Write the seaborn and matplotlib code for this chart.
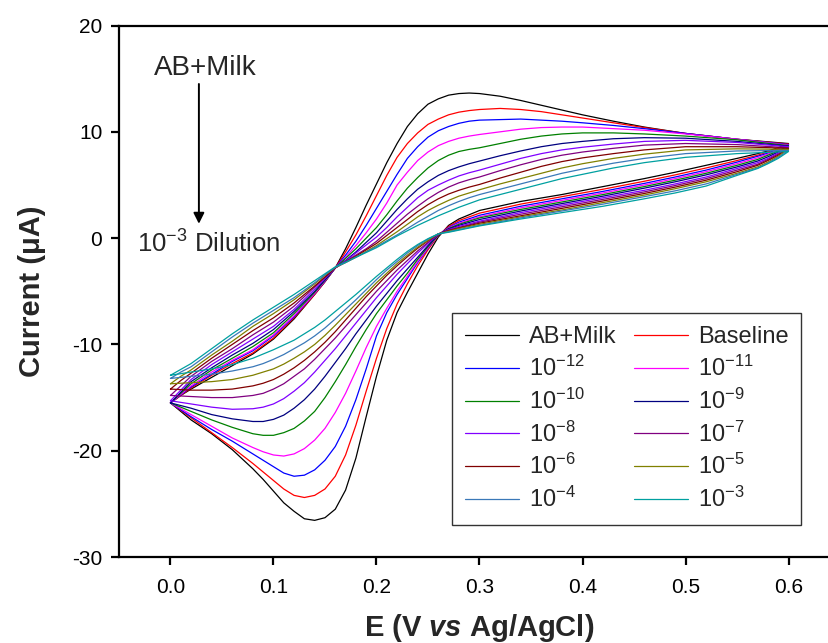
import matplotlib
matplotlib.use("Agg")
import matplotlib.pyplot as plt
import pandas as pd
import seaborn as sns
from matplotlib.lines import Line2D

# Potentials (V vs Ag/AgCl) of the anodic and cathodic sweeps, both listed low -> high
fwd_potential = [0.00, 0.01, 0.02, 0.04, 0.06, 0.08, 0.10, 0.12, 0.14, 0.15, 0.16,
                 0.17, 0.18, 0.19, 0.20, 0.21, 0.22, 0.23, 0.24, 0.25, 0.26, 0.27,
                 0.28, 0.29, 0.30, 0.32, 0.34, 0.36, 0.38, 0.40, 0.43, 0.46, 0.50,
                 0.55, 0.60]
rev_potential = [0.00, 0.01, 0.02, 0.04, 0.06, 0.08, 0.09, 0.10, 0.11, 0.12, 0.13,
                 0.14, 0.15, 0.16, 0.17, 0.18, 0.19, 0.20, 0.21, 0.22, 0.23, 0.24,
                 0.25, 0.26, 0.27, 0.28, 0.30, 0.34, 0.38, 0.42, 0.46, 0.49, 0.52,
                 0.55, 0.57, 0.58, 0.59, 0.60]

sample_names = ["AB+Milk", "Baseline", "1e-12", "1e-11", "1e-10", "1e-9",
                "1e-8", "1e-7", "1e-6", "1e-5", "1e-4", "1e-3"]
legend_labels = ["AB+Milk", "Baseline", "10$^{-12}$", "10$^{-11}$", "10$^{-10}$",
                 "10$^{-9}$", "10$^{-8}$", "10$^{-7}$", "10$^{-6}$", "10$^{-5}$",
                 "10$^{-4}$", "10$^{-3}$"]
line_colors = ["#000000", "#FF0000", "#0000FF", "#FF00FF", "#008000", "#000080",
               "#8000FF", "#800080", "#800000", "#808000", "#3A78B8", "#00A0A0"]

# Anodic sweep currents (uA) on fwd_potential
ab_milk_fwd = [-15.5, -14.8, -14.2, -13.1, -12.0, -10.9, -9.5, -7.6, -5.3, -4.1, -2.8,
               -1.0, 1.0, 3.1, 5.1, 7.1, 8.9, 10.5, 11.7, 12.6, 13.1, 13.45,
               13.6, 13.65, 13.6, 13.35, 12.95, 12.5, 12.05, 11.6, 11.0, 10.45, 9.85,
               9.3, 8.9]
baseline_fwd = [-15.5, -14.8, -14.1, -12.9, -11.8, -10.8, -9.4, -7.5, -5.3, -4.1, -2.8,
                -1.3, 0.3, 2.1, 4.0, 5.9, 7.6, 8.9, 9.9, 10.7, 11.2, 11.6,
                11.85, 12.0, 12.1, 12.2, 12.1, 11.9, 11.6, 11.3, 10.85, 10.4, 9.85,
                9.3, 8.85]
d12_fwd = [-15.5, -14.75, -14.0, -12.8, -11.6, -10.6, -9.2, -7.4, -5.2, -4.05, -2.8,
           -1.6, -0.3, 1.2, 2.8, 4.4, 6.0, 7.5, 8.6, 9.5, 10.1, 10.5,
           10.8, 11.0, 11.1, 11.15, 11.2, 11.1, 11.0, 10.85, 10.6, 10.3, 9.85,
           9.3, 8.8]
d11_fwd = [-15.5, -14.7, -13.9, -12.6, -11.5, -10.5, -9.1, -7.3, -5.2, -4.0, -2.8,
           -1.8, -0.7, 0.5, 1.8, 3.3, 5.0, 6.2, 7.3, 8.1, 8.7, 9.1,
           9.4, 9.6, 9.75, 10.0, 10.25, 10.4, 10.45, 10.45, 10.3, 10.15, 9.8,
           9.3, 8.75]
d10_fwd = [-15.5, -14.6, -13.7, -12.4, -11.3, -10.2, -8.9, -7.1, -5.1, -3.95, -2.8,
           -1.9, -1.0, 0.0, 1.0, 2.2, 3.5, 4.7, 5.7, 6.6, 7.3, 7.8,
           8.15, 8.35, 8.5, 8.9, 9.3, 9.6, 9.8, 9.9, 9.9, 9.8, 9.6,
           9.25, 8.7]
d9_fwd = [-15.5, -14.5, -13.5, -12.2, -11.0, -9.9, -8.6, -6.9, -5.0, -3.9, -2.8,
          -2.1, -1.3, -0.4, 0.5, 1.6, 2.7, 3.7, 4.6, 5.3, 5.9, 6.35,
          6.7, 7.0, 7.25, 7.75, 8.2, 8.6, 8.9, 9.1, 9.35, 9.45, 9.4,
          9.1, 8.65]
d8_fwd = [-15.3, -14.3, -13.3, -11.9, -10.7, -9.5, -8.3, -6.7, -4.8, -3.8, -2.8,
          -2.15, -1.4, -0.65, 0.1, 1.0, 2.0, 2.9, 3.8, 4.5, 5.0, 5.45,
          5.85, 6.15, 6.4, 6.95, 7.5, 7.95, 8.3, 8.55, 8.85, 9.1, 9.2,
          9.0, 8.6]
d7_fwd = [-14.8, -13.9, -13.0, -11.6, -10.4, -9.1, -7.9, -6.4, -4.6, -3.7, -2.8,
          -2.2, -1.6, -1.0, -0.3, 0.55, 1.4, 2.25, 3.0, 3.7, 4.3, 4.8,
          5.2, 5.5, 5.75, 6.35, 6.9, 7.4, 7.8, 8.1, 8.45, 8.75, 8.9,
          8.8, 8.5]
d6_fwd = [-14.2, -13.4, -12.7, -11.3, -10.0, -8.7, -7.5, -6.1, -4.5, -3.65, -2.8,
          -2.25, -1.7, -1.1, -0.5, 0.25, 1.0, 1.75, 2.5, 3.15, 3.7, 4.15,
          4.5, 4.8, 5.05, 5.65, 6.2, 6.75, 7.2, 7.55, 7.95, 8.3, 8.6,
          8.6, 8.45]
d5_fwd = [-13.7, -13.0, -12.4, -11.0, -9.7, -8.3, -7.1, -5.8, -4.3, -3.5, -2.75,
          -2.3, -1.8, -1.25, -0.7, -0.05, 0.6, 1.3, 2.0, 2.6, 3.1, 3.55,
          3.95, 4.25, 4.55, 5.1, 5.6, 6.1, 6.6, 7.0, 7.5, 7.9, 8.3,
          8.4, 8.35]
d4_fwd = [-13.2, -12.6, -12.1, -10.7, -9.3, -8.0, -6.8, -5.6, -4.2, -3.45, -2.75,
          -2.3, -1.8, -1.3, -0.8, -0.25, 0.3, 0.9, 1.5, 2.05, 2.6, 3.05,
          3.45, 3.8, 4.1, 4.6, 5.1, 5.6, 6.1, 6.5, 7.05, 7.5, 7.95,
          8.2, 8.25]
d3_fwd = [-12.9, -12.35, -11.8, -10.4, -9.0, -7.7, -6.5, -5.3, -4.0, -3.35, -2.7,
          -2.25, -1.8, -1.35, -0.9, -0.35, 0.2, 0.7, 1.2, 1.65, 2.1, 2.5,
          2.9, 3.25, 3.6, 4.1, 4.6, 5.1, 5.6, 6.0, 6.6, 7.1, 7.6,
          7.95, 8.15]

# Cathodic sweep currents (uA) on rev_potential (traced from 0.6 V back to 0 V)
ab_milk_rev = [-15.5, -16.3, -17.1, -18.4, -19.9, -21.7, -22.7, -23.8, -24.9, -25.7, -26.4,
               -26.55, -26.3, -25.5, -23.7, -20.7, -16.8, -13.0, -9.6, -7.0, -5.1, -3.3,
               -1.5, 0.1, 1.2, 1.8, 2.6, 3.45, 4.1, 4.85, 5.6, 6.2, 6.85,
               7.5, 7.95, 8.2, 8.5, 8.9]
baseline_rev = [-15.5, -16.2, -16.9, -18.3, -19.7, -21.2, -22.0, -22.8, -23.6, -24.2, -24.4,
                -24.2, -23.6, -22.4, -20.4, -17.6, -14.4, -11.3, -8.5, -6.2, -4.3, -2.6,
                -1.1, 0.25, 1.1, 1.65, 2.35, 3.2, 3.9, 4.6, 5.35, 5.95, 6.6,
                7.3, 7.8, 8.1, 8.45, 8.85]
d12_rev = [-15.5, -16.15, -16.8, -18.0, -19.1, -20.3, -20.9, -21.5, -22.1, -22.4, -22.3,
           -21.8, -20.9, -19.6, -17.7, -15.2, -12.3, -9.2, -7.0, -5.3, -3.8, -2.3,
           -0.95, 0.3, 1.0, 1.5, 2.15, 3.0, 3.7, 4.4, 5.15, 5.75, 6.4,
           7.15, 7.7, 8.0, 8.35, 8.8]
d11_rev = [-15.5, -16.05, -16.6, -17.7, -18.8, -19.7, -20.1, -20.4, -20.5, -20.3, -19.8,
           -19.0, -17.9, -16.4, -14.6, -12.5, -10.3, -8.3, -6.6, -5.0, -3.6, -2.2,
           -0.9, 0.3, 0.95, 1.4, 2.0, 2.85, 3.55, 4.25, 5.0, 5.6, 6.25,
           7.0, 7.55, 7.9, 8.3, 8.75]
d10_rev = [-15.5, -15.9, -16.3, -17.1, -17.8, -18.4, -18.55, -18.55, -18.3, -17.9, -17.2,
           -16.3, -15.0, -13.5, -11.9, -10.2, -8.6, -7.1, -5.8, -4.5, -3.3, -2.0,
           -0.8, 0.3, 0.9, 1.3, 1.9, 2.7, 3.4, 4.1, 4.85, 5.45, 6.1,
           6.85, 7.4, 7.8, 8.2, 8.7]
d9_rev = [-15.5, -15.75, -16.0, -16.6, -17.0, -17.25, -17.25, -17.05, -16.65, -16.0, -15.2,
          -14.2, -13.0, -11.7, -10.4, -9.0, -7.7, -6.4, -5.2, -4.0, -2.9, -1.8,
          -0.7, 0.35, 0.85, 1.2, 1.75, 2.55, 3.25, 3.95, 4.7, 5.3, 5.95,
          6.7, 7.25, 7.65, 8.1, 8.65]
d8_rev = [-15.3, -15.45, -15.6, -15.9, -16.1, -16.05, -15.9, -15.6, -15.1, -14.4, -13.6,
          -12.6, -11.5, -10.4, -9.2, -8.0, -6.8, -5.6, -4.5, -3.4, -2.4, -1.4,
          -0.5, 0.35, 0.8, 1.1, 1.6, 2.4, 3.1, 3.8, 4.5, 5.1, 5.75,
          6.55, 7.1, 7.5, 8.0, 8.6]
d7_rev = [-14.8, -14.85, -14.9, -15.0, -15.0, -14.8, -14.6, -14.2, -13.7, -13.0, -12.3,
          -11.4, -10.4, -9.4, -8.3, -7.2, -6.1, -5.0, -4.0, -3.0, -2.1, -1.2,
          -0.4, 0.4, 0.75, 1.0, 1.5, 2.25, 2.95, 3.65, 4.35, 4.95, 5.6,
          6.4, 6.95, 7.4, 7.9, 8.5]
d6_rev = [-14.2, -14.25, -14.3, -14.3, -14.2, -13.9, -13.65, -13.3, -12.8, -12.2, -11.5,
          -10.7, -9.8, -8.8, -7.7, -6.6, -5.5, -4.5, -3.5, -2.6, -1.75, -0.95,
          -0.25, 0.4, 0.7, 0.95, 1.4, 2.1, 2.8, 3.5, 4.2, 4.8, 5.45,
          6.25, 6.85, 7.3, 7.8, 8.45]
d5_rev = [-13.7, -13.65, -13.6, -13.5, -13.3, -12.9, -12.6, -12.3, -11.85, -11.3, -10.7,
          -10.0, -9.15, -8.2, -7.2, -6.2, -5.2, -4.2, -3.3, -2.4, -1.6, -0.85,
          -0.2, 0.4, 0.65, 0.9, 1.3, 2.0, 2.65, 3.35, 4.05, 4.65, 5.3,
          6.1, 6.7, 7.15, 7.7, 8.35]
d4_rev = [-13.2, -13.1, -13.0, -12.8, -12.5, -12.1, -11.8, -11.4, -10.95, -10.4, -9.85,
          -9.2, -8.45, -7.6, -6.7, -5.8, -4.85, -3.9, -3.0, -2.2, -1.4, -0.7,
          -0.1, 0.4, 0.6, 0.8, 1.2, 1.9, 2.55, 3.2, 3.9, 4.45, 5.1,
          6.0, 6.6, 7.05, 7.6, 8.25]
d3_rev = [-12.9, -12.75, -12.6, -12.3, -11.9, -11.3, -10.9, -10.5, -10.05, -9.6, -9.0,
          -8.4, -7.7, -6.9, -6.1, -5.3, -4.45, -3.6, -2.8, -2.0, -1.25, -0.6,
          -0.05, 0.4, 0.55, 0.75, 1.15, 1.8, 2.4, 3.0, 3.7, 4.25, 4.9,
          5.9, 6.55, 7.0, 7.5, 8.15]

forward = [ab_milk_fwd, baseline_fwd, d12_fwd, d11_fwd, d10_fwd, d9_fwd,
           d8_fwd, d7_fwd, d6_fwd, d5_fwd, d4_fwd, d3_fwd]
reverse = [ab_milk_rev, baseline_rev, d12_rev, d11_rev, d10_rev, d9_rev,
           d8_rev, d7_rev, d6_rev, d5_rev, d4_rev, d3_rev]

# One closed voltammogram per sample: anodic sweep out, cathodic sweep back
rows = []
for name, fwd, rev in zip(sample_names, forward, reverse):
    for e, i in zip(fwd_potential, fwd):
        rows.append((name, e, i))
    for e, i in zip(rev_potential[::-1], rev[::-1]):
        rows.append((name, e, i))
df = pd.DataFrame(rows, columns=["sample", "E", "I"])

sns.set_theme(style="ticks")
plt.rcParams["font.family"] = ["Liberation Sans", "DejaVu Sans"]
plt.rcParams["axes.unicode_minus"] = False
plt.rcParams["mathtext.fontset"] = "custom"
plt.rcParams["mathtext.rm"] = "Liberation Sans"
plt.rcParams["mathtext.it"] = "Liberation Sans:italic:bold"
plt.rcParams["mathtext.bf"] = "Liberation Sans:bold"

fig = plt.figure(figsize=(8.29, 6.43), dpi=100)
ax = fig.add_axes([0.1435, 0.1337, 0.8698, 0.8266])

sns.lineplot(data=df, x="E", y="I", hue="sample", hue_order=sample_names,
             palette=line_colors, sort=False, estimator=None, linewidth=0.9,
             legend=False, ax=ax)

ax.set_xlim(-0.05, 0.65)
ax.set_ylim(-30, 20)
ax.set_xticks([0.0, 0.1, 0.2, 0.3, 0.4, 0.5, 0.6])
ax.set_yticks([-30, -20, -10, 0, 10, 20])
ax.xaxis.set_major_formatter(matplotlib.ticker.FormatStrFormatter("%.1f"))
for sp in ax.spines.values():
    sp.set_linewidth(1.6)
    sp.set_color("black")
ax.tick_params(axis="both", direction="out", length=6, width=1.6, labelsize=15,
               colors="black")
ax.tick_params(axis="x", pad=9)
ax.tick_params(axis="y", pad=6)

ax.set_xlabel(r"E (V $\mathit{vs}$ Ag/AgCl)", fontsize=21, fontweight="bold", labelpad=11)
ax.set_ylabel("Current (\u03bcA)", fontsize=21, fontweight="bold", labelpad=19)

# Dilution trend annotation
ax.annotate("", xy=(0.0276, 1.35), xytext=(0.0276, 14.5),
            arrowprops=dict(arrowstyle="-|>", color="black", lw=1.4,
                            mutation_scale=16, shrinkA=0, shrinkB=0))
ax.text(0.034, 16.0, "AB+Milk", fontsize=20, ha="center", va="center")
ax.text(0.0375, -0.55, "10$^{-3}$ Dilution", fontsize=18.5, ha="center", va="center")

handles = [Line2D([], [], color=c, lw=0.9) for c in line_colors]
order = list(range(0, 12, 2)) + list(range(1, 12, 2))
leg = ax.legend([handles[k] for k in order], [legend_labels[k] for k in order],
                ncol=2, loc="lower left", bbox_to_anchor=(0.4619, 0.0602),
                borderaxespad=0, fontsize=17, frameon=True, fancybox=False,
                framealpha=1, edgecolor="#333333", handlelength=2.3,
                handletextpad=0.4, columnspacing=0.75, labelspacing=0.32,
                borderpad=0.55)
leg.get_frame().set_linewidth(1.0)

fig.savefig("out.png", dpi=100)
